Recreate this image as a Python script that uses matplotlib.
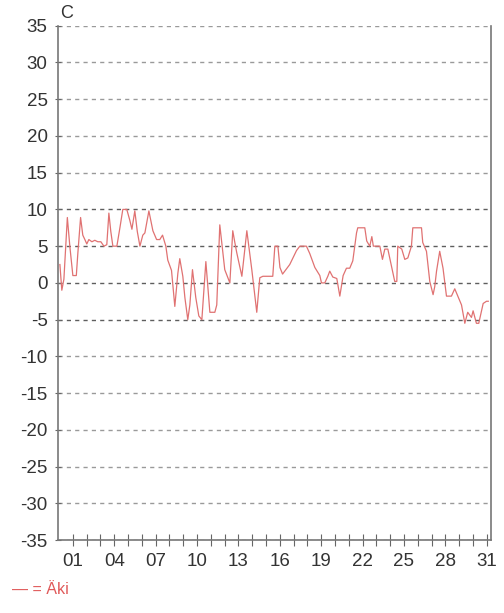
import numpy as np
import matplotlib.pyplot as plt

plt.rcParams['font.family'] = ['Liberation Sans', 'DejaVu Sans']

# Aika päivinä (1 = kuun ensimmäinen päivä) ja lämpötila (°C)
paiva = [0.06, 0.20, 0.35, 0.60, 0.78, 1.00, 1.25, 1.36, 1.56, 1.72,
         1.87, 2.01, 2.16, 2.38, 2.59, 2.81, 3.03, 3.25, 3.46, 3.61,
         3.75, 3.90, 4.19, 4.41, 4.62, 4.91, 5.13, 5.28, 5.49, 5.67,
         5.86, 6.07, 6.22, 6.51, 6.80, 7.07, 7.30, 7.50, 7.74, 7.88,
         8.15, 8.39, 8.61, 8.75, 8.97, 9.12, 9.33, 9.48, 9.67, 9.91,
         10.13, 10.35, 10.64, 10.93, 11.29, 11.43, 11.65, 12.01, 12.38, 12.59,
         12.74, 12.88, 13.25, 13.61, 13.97, 14.33, 14.55, 14.77, 15.49, 15.64,
         15.86, 16.01, 16.20, 16.36, 16.72, 17.21, 17.45, 17.93, 18.17, 18.54,
         18.90, 19.02, 19.26, 19.48, 19.62, 19.84, 20.13, 20.35, 20.59, 20.83,
         21.07, 21.29, 21.56, 21.65, 22.16, 22.30, 22.52, 22.67, 22.78, 23.25,
         23.44, 23.61, 23.83, 24.09, 24.33, 24.48, 24.55, 24.84, 25.06, 25.28,
         25.54, 25.64, 26.27, 26.36, 26.63, 26.87, 27.11, 27.23, 27.36, 27.59,
         27.83, 28.08, 28.44, 28.68, 28.90, 29.17, 29.41, 29.62, 29.89, 30.01,
         30.25, 30.42, 30.74, 30.98, 31.11]
lampo = [2.5, -1.0, 0.5, 8.9, 5.0, 1.0, 1.0, 4.0, 8.9, 6.5,
         5.9, 5.3, 5.9, 5.6, 5.8, 5.6, 5.6, 5.0, 5.2, 9.5,
         7.0, 5.0, 5.0, 7.5, 10.0, 10.0, 8.5, 7.3, 9.8, 7.0,
         5.0, 6.5, 6.8, 9.8, 7.1, 5.9, 5.9, 6.5, 5.0, 3.1,
         1.7, -3.2, 1.3, 3.3, 0.9, -2.0, -5.0, -3.0, 1.8, -2.0,
         -4.5, -5.0, 2.9, -4.0, -4.0, -3.0, 7.9, 1.8, 0.0, 7.1,
         5.5, 4.1, 0.9, 7.1, 1.8, -4.0, 0.7, 0.9, 0.9, 5.0,
         5.0, 2.1, 1.2, 1.6, 2.5, 4.4, 5.0, 5.0, 4.0, 2.1,
         1.0, 0.0, 0.0, 0.9, 1.6, 0.8, 0.6, -1.8, 1.0, 2.0,
         2.0, 3.0, 6.8, 7.5, 7.5, 5.7, 5.0, 6.3, 5.0, 5.0,
         3.2, 4.6, 4.6, 2.3, 0.2, 0.2, 5.0, 4.6, 3.2, 3.4,
         5.0, 7.5, 7.5, 5.5, 4.3, 0.2, -1.6, -0.5, 1.6, 4.3,
         2.0, -1.8, -1.8, -0.8, -1.8, -3.0, -5.5, -4.0, -4.7, -3.8,
         -5.5, -5.5, -2.8, -2.5, -2.5]

y_ticks = list(range(-35, 40, 5))
x_ticks = list(range(1, 32))

fig = plt.figure(figsize=(5.04, 6.13), dpi=100)
ax = fig.add_axes([0.115, 0.119, 0.859, 0.839])

# katkoviivaiset apuviivat, nollan ympäristö tummempana
for y in y_ticks:
    c = '#5e5e5e' if -5 <= y <= 10 else '#9a9a9a'
    ax.axhline(y, color=c, linestyle=(0, (3, 3)), linewidth=1.0, zorder=1)

ax.plot(paiva, lampo, color='#e07272', linewidth=0.9, zorder=3)

ax.set_xlim(-0.08, 31.3)
ax.set_ylim(-35, 35)
ax.set_yticks(y_ticks)
ax.set_yticklabels([str(y) for y in y_ticks])
ax.set_xticks(x_ticks)
ax.set_xticklabels([f'{d:02d}' if (d - 1) % 3 == 0 else '' for d in x_ticks])

ax.tick_params(axis='y', direction='inout', length=5, width=0.8, color='#666666',
               labelsize=13.5, labelcolor='#333333', pad=5)
ax.tick_params(axis='x', direction='inout', length=8, width=0.8, color='#666666',
               labelsize=13.5, labelcolor='#333333', pad=5)

ax.spines['top'].set_visible(False)
for s in ['left', 'bottom', 'right']:
    ax.spines[s].set_color('#777777')
    ax.spines[s].set_linewidth(1.2)

fig.text(67 / 504, 1 - 13 / 613, 'C', fontsize=13, color='#333333',
         ha='center', va='center')
fig.text(12 / 504, 1 - 589 / 613, '— = Äki', fontsize=11.5, color='#e05a5a',
         ha='left', va='center')

fig.savefig('out.png', dpi=100, facecolor='white')
